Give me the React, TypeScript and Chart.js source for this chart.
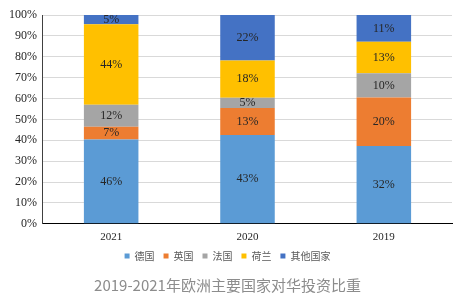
import React, { useEffect, useRef } from "react";
import { Chart, registerables } from "chart.js";

Chart.register(...registerables);

const categories = ["2021", "2020", "2019"];
const germany = [46, 43, 32];
const uk = [7, 13, 20];
const france = [12, 5, 10];
const netherlands = [44, 18, 13];
const others = [5, 22, 11];
const seriesNames = ["德国", "英国", "法国", "荷兰", "其他国家"];
const seriesColors = ["#5B9BD5", "#ED7D31", "#A5A5A5", "#FFC000", "#4472C4"];
const yTicks = [0, 10, 20, 30, 40, 50, 60, 70, 80, 90, 100];
const titleText = "2019-2021年欧洲主要国家对华投资比重";

const rawSeries = [germany, uk, france, netherlands, others];
const totals = categories.map((_, i) => rawSeries.reduce((s, arr) => s + arr[i], 0));

const labelPlugin = {
  id: "barLabels",
  afterDatasetsDraw(chart: any) {
    const ctx = chart.ctx;
    ctx.save();
    ctx.font = "12px 'Liberation Serif', serif";
    ctx.fillStyle = "#262626";
    ctx.textAlign = "center";
    ctx.textBaseline = "middle";
    chart.data.datasets.forEach((ds: any, di: number) => {
      const meta = chart.getDatasetMeta(di);
      meta.data.forEach((bar: any, i: number) => {
        const raw = rawSeries[di][i];
        const y = (bar.y + bar.base) / 2;
        ctx.fillText(raw + "%", bar.x, y);
      });
    });
    ctx.restore();
  },
};

export default function App() {
  const ref = useRef<HTMLCanvasElement>(null);
  useEffect(() => {
    document.body.style.margin = "0";
    const chart = new Chart(ref.current!, {
      type: "bar",
      data: {
        labels: categories,
        datasets: rawSeries.map((arr, di) => ({
          label: seriesNames[di],
          data: arr.map((v, i) => (v / totals[i]) * 100),
          backgroundColor: seriesColors[di],
          borderWidth: 0,
          categoryPercentage: 0.4,
          barPercentage: 1,
        })),
      },
      options: {
        animation: false,
        responsive: false,
        maintainAspectRatio: false,
        layout: { padding: { top: 15, right: 9, left: 3, bottom: 3 } },
        plugins: {
          tooltip: { enabled: false },
          legend: {
            position: "bottom",
            labels: {
              boxWidth: 5,
              boxHeight: 5,
              padding: 0,
              color: "#595959",
              font: { size: 10, family: "'Noto Sans CJK SC', sans-serif" },
              generateLabels: (chart: any) => {
                const items = Chart.defaults.plugins.legend.labels.generateLabels(chart);
                return items.map((it: any, i: number) => ({
                  ...it,
                  text: i < items.length - 1 ? it.text + "    " : it.text,
                }));
              },
            },
          },
          title: {
            display: true,
            position: "bottom",
            text: titleText,
            color: "#8c8c8c",
            font: { size: 15, weight: "normal", family: "'Noto Sans CJK SC', sans-serif" },
            padding: { top: 5, bottom: 2 },
          },
        },
        scales: {
          x: {
            stacked: true,
            grid: { display: false, drawTicks: false },
            border: { color: "#000000", width: 1 },
            ticks: {
              color: "#262626",
              font: { size: 11, family: "'Liberation Serif', serif" },
              padding: 7,
            },
          },
          y: {
            stacked: true,
            min: 0,
            max: 100,
            afterBuildTicks: (axis: any) => {
              axis.ticks = yTicks.map((v) => ({ value: v }));
            },
            grid: { color: "#d9d9d9", drawTicks: false },
            border: { color: "#404040", width: 1 },
            ticks: {
              color: "#262626",
              font: { size: 12, family: "'Liberation Serif', serif" },
              padding: 6,
              callback: (v: any) => v + "%",
            },
          },
        },
      },
      plugins: [labelPlugin],
    });
    return () => chart.destroy();
  }, []);
  return (
    <div style={{ position: "absolute", left: 0, top: 0, width: 461, height: 299 }}>
      <canvas ref={ref} width={461} height={299} />
    </div>
  );
}
